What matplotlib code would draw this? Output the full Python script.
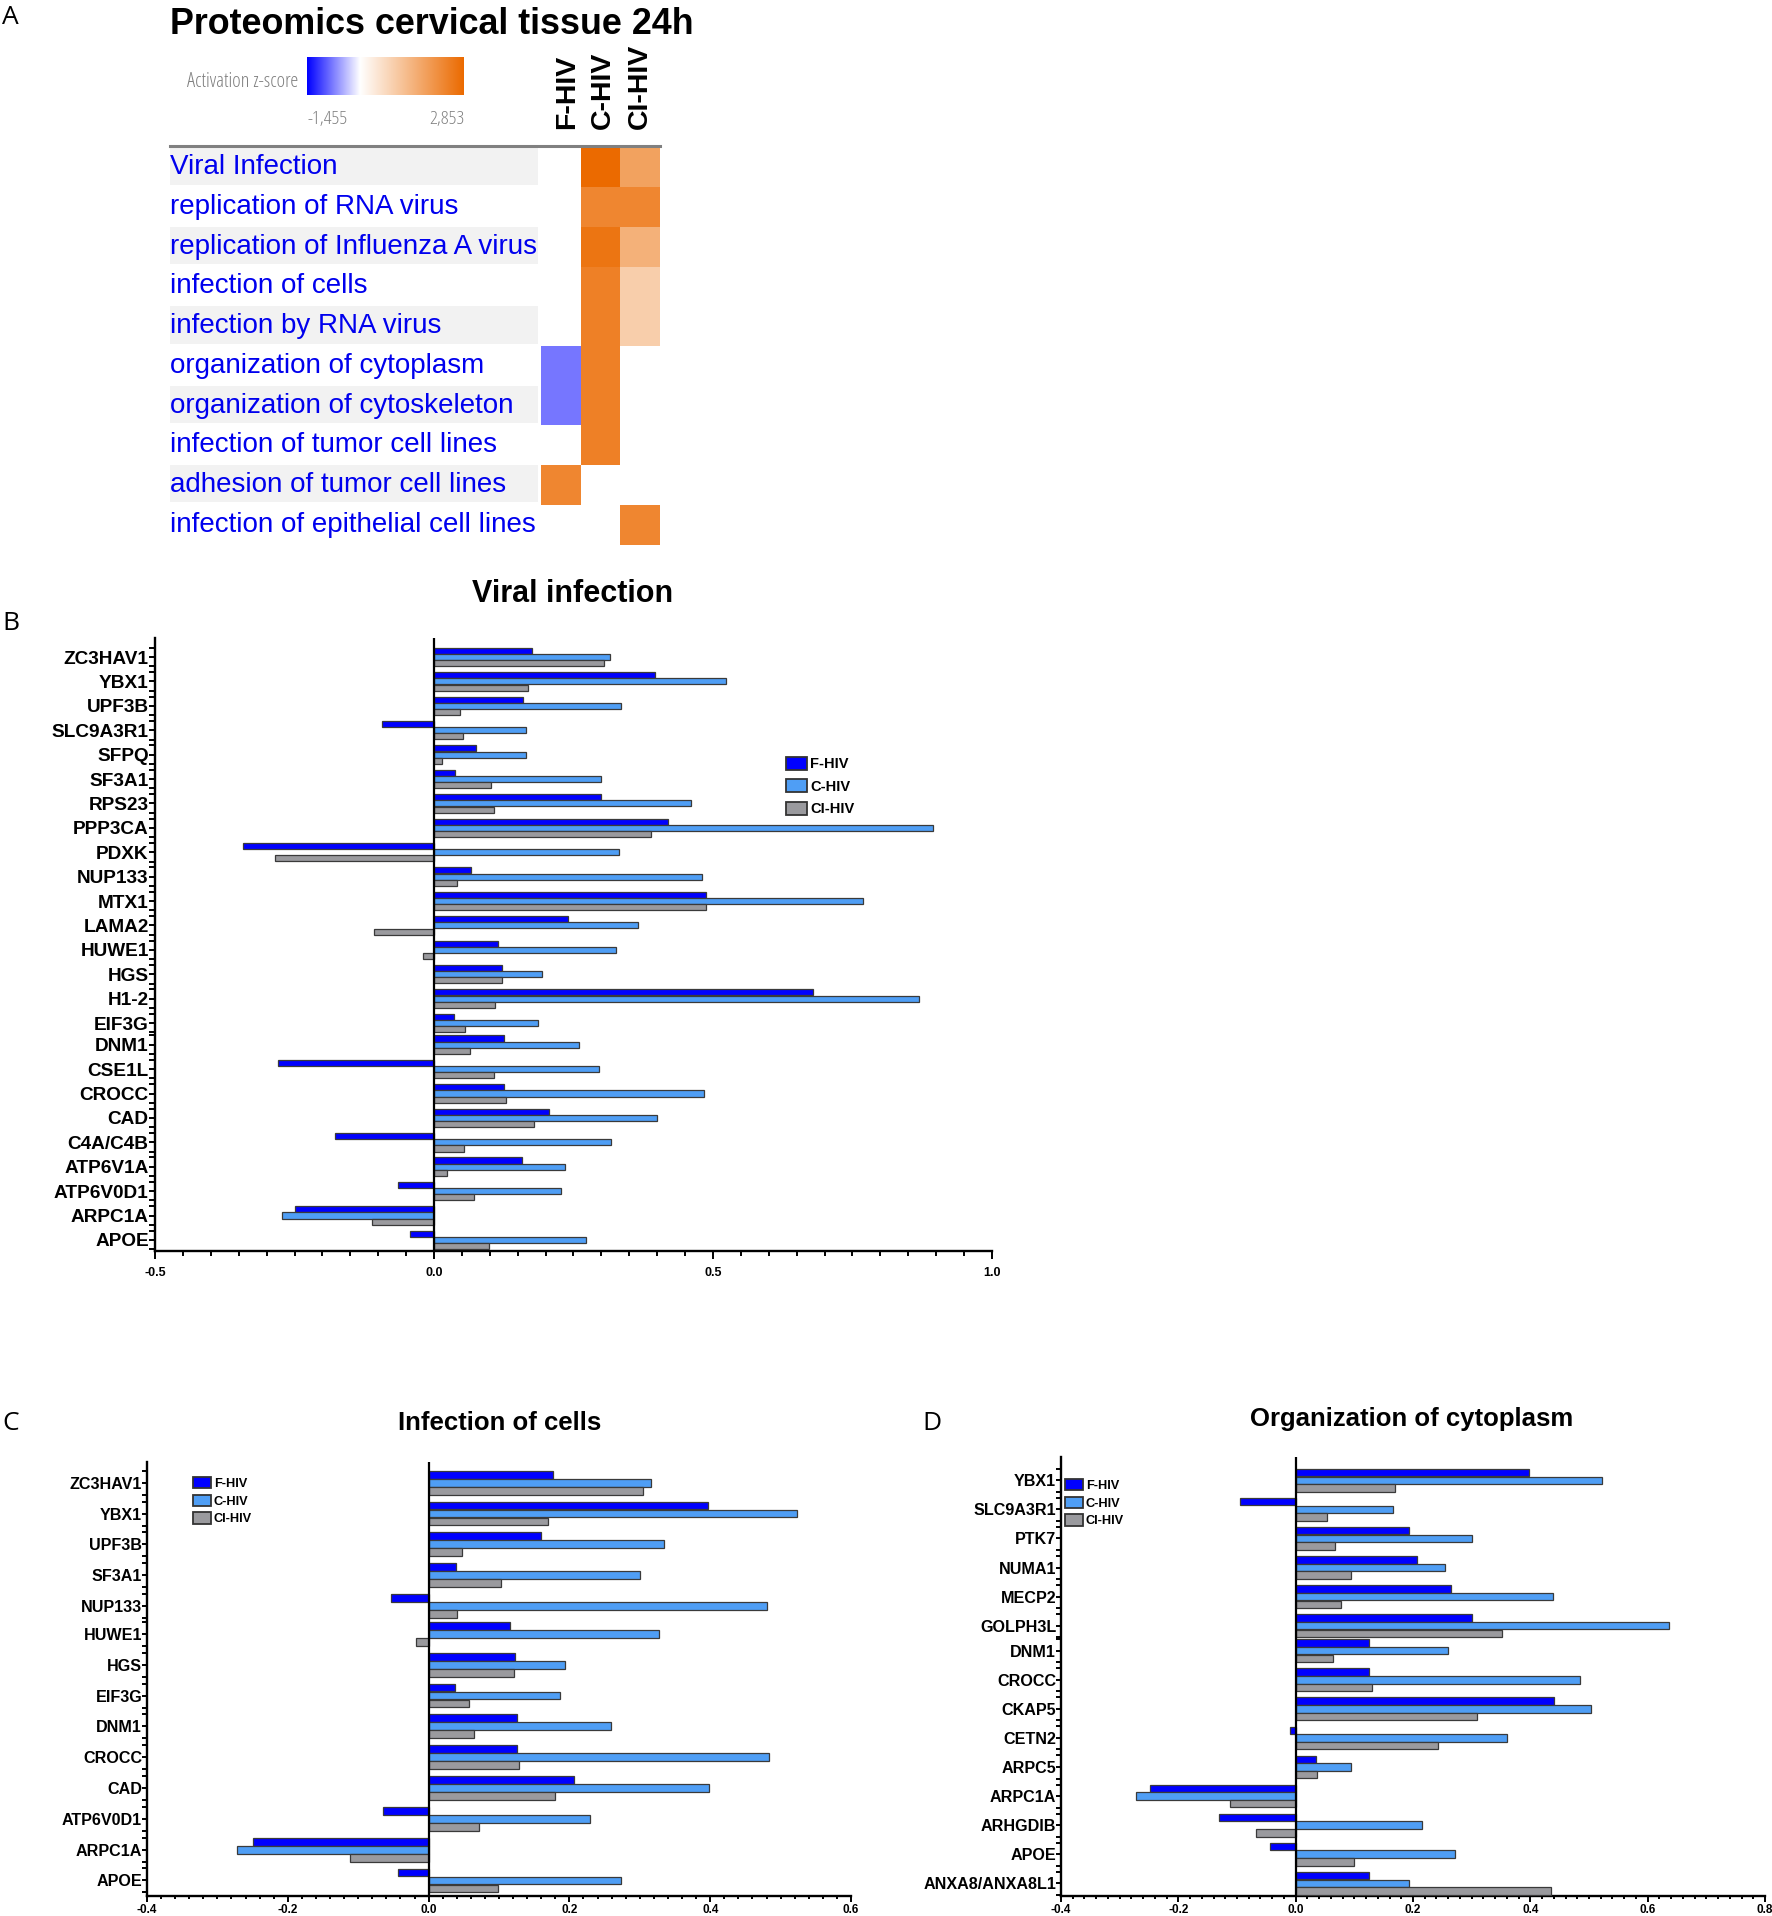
import matplotlib
matplotlib.use('Agg')
import matplotlib.pyplot as plt
import numpy as np
from matplotlib.colors import LinearSegmentedColormap
from matplotlib.patches import Patch
from matplotlib.ticker import FixedLocator

W, H = 1772, 1916
plt.rcParams['font.family'] = ['Liberation Sans', 'DejaVu Sans']

groups = ['F-HIV', 'C-HIV', 'CI-HIV']
colors = ['#0000FF', '#4F9EF5', '#9A9A9E']

# Panel A
pathways = ['Viral Infection', 'replication of RNA virus', 'replication of Influenza A virus',
            'infection of cells', 'infection by RNA virus', 'organization of cytoplasm',
            'organization of cytoskeleton', 'infection of tumor cell lines',
            'adhesion of tumor cell lines', 'infection of epithelial cell lines']
z_f = [np.nan, np.nan, np.nan, np.nan, np.nan, -0.78, -0.78, np.nan, 2.3, np.nan]
z_c = [2.853, 2.3, 2.65, 2.43, 2.43, 2.43, 2.43, 2.43, np.nan, np.nan]
z_ci = [1.78, 2.3, 1.5, 0.94, 0.94, np.nan, np.nan, np.nan, np.nan, 2.3]
z_min, z_max = -1.455, 2.853

# Panel B
genes_b = ['ZC3HAV1', 'YBX1', 'UPF3B', 'SLC9A3R1', 'SFPQ', 'SF3A1', 'RPS23', 'PPP3CA', 'PDXK',
           'NUP133', 'MTX1', 'LAMA2', 'HUWE1', 'HGS', 'H1-2', 'EIF3G', 'DNM1', 'CSE1L', 'CROCC',
           'CAD', 'C4A/C4B', 'ATP6V1A', 'ATP6V0D1', 'ARPC1A', 'APOE']
f_b = [.176, .396, .16, -.094, .075, .038, .30, .42, -.342, .066, .487, .241, .115, .122, .68,
       .036, .126, -.279, .126, .206, -.178, .157, -.065, -.249, -.043]
c_b = [.315, .523, .335, .165, .164, .30, .461, .895, .332, .48, .768, .366, .327, .193, .87,
       .187, .26, .295, .484, .40, .317, .235, .228, -.272, .272]
ci_b = [.305, .169, .046, .052, .014, .102, .107, .389, -.285, .042, .488, -.108, -.019, .121,
        .109, .056, .065, .107, .129, .179, .054, .023, .072, -.112, .099]

# Panel C
genes_c = ['ZC3HAV1', 'YBX1', 'UPF3B', 'SF3A1', 'NUP133', 'HUWE1', 'HGS', 'EIF3G', 'DNM1',
           'CROCC', 'CAD', 'ATP6V0D1', 'ARPC1A', 'APOE']
f_c = [.176, .397, .16, .039, -.053, .115, .123, .037, .126, .126, .207, -.065, -.249, -.044]
c_c = [.316, .523, .335, .30, .48, .327, .194, .187, .259, .484, .399, .229, -.272, .273]
ci_c = [.305, .169, .047, .103, .041, -.018, .122, .057, .065, .129, .18, .072, -.112, .099]

# Panel D
genes_d = ['YBX1', 'SLC9A3R1', 'PTK7', 'NUMA1', 'MECP2', 'GOLPH3L', 'DNM1', 'CROCC', 'CKAP5',
           'CETN2', 'ARPC5', 'ARPC1A', 'ARHGDIB', 'APOE', 'ANXA8/ANXA8L1']
f_d = [.397, -.095, .194, .206, .264, .301, .125, .125, .441, -.009, .035, -.249, -.13, -.044, .125]
c_d = [.523, .166, .30, .255, .439, .636, .26, .484, .504, .36, .095, -.272, .215, .272, .193]
ci_d = [.169, .053, .067, .094, .077, .352, .064, .13, .309, .243, .036, -.112, -.068, .099, .435]


def add_axes_px(fig, x0, y0, x1, y1):
    # y in pixels from the top of the picture
    return fig.add_axes([x0 / W, 1 - y1 / H, (x1 - x0) / W, (y1 - y0) / H])


def text_px(fig, x, y, s, **kw):
    fig.text(x / W, 1 - y / H, s, **kw)


def bar_panel(fig, box, first_y, step, squeeze, genes, series, xlim, major, minor, pitch,
              label_size, tick_size, tick_len, x_pad, legend_xy, legend_size, legend_gap):
    x0, y0, x1, y1 = box
    ax = add_axes_px(fig, x0, y0, x1, y1)
    # one row is slightly closer to the previous one in the original
    rows = np.arange(len(genes), dtype=float)
    rows[squeeze[0]:] -= squeeze[1] / step
    bar_h = pitch / step
    for i, (vals, col) in enumerate(zip(series, colors)):
        ax.barh(rows + (i - 1) * bar_h, vals, height=bar_h * 0.97, color=col,
                edgecolor='#3A3A3A', linewidth=0.9, zorder=3)
    ax.set_xlim(*xlim)
    ax.set_ylim((y1 - first_y) / step, (y0 - first_y) / step)
    ax.axvline(0, color='black', lw=1.6, zorder=4)
    for side in ['top', 'right']:
        ax.spines[side].set_visible(False)
    for side in ['left', 'bottom']:
        ax.spines[side].set_linewidth(1.7)
    ax.set_xticks(major)
    ax.set_xticklabels([f'{v:.1f}' for v in major], fontsize=tick_size, fontweight='bold')
    ax.xaxis.set_minor_locator(FixedLocator(minor))
    ax.tick_params(axis='x', which='major', width=1.4, length=tick_len + 2, pad=x_pad)
    ax.tick_params(axis='x', which='minor', width=1.4, length=tick_len)
    ax.set_yticks(rows)
    ax.set_yticklabels(genes, fontsize=label_size, fontweight='bold')
    edge = np.concatenate([rows - 1.5 * bar_h, rows + 1.5 * bar_h])
    ax.yaxis.set_minor_locator(FixedLocator(edge))
    ax.tick_params(axis='y', which='both', width=1.4, length=tick_len + 1, pad=0)
    handles = [Patch(facecolor=c, edgecolor='#333333', linewidth=1.3, label=g)
               for c, g in zip(colors, groups)]
    fig.legend(handles=handles, loc='upper left', frameon=False,
               bbox_to_anchor=(legend_xy[0] / W, 1 - legend_xy[1] / H), borderpad=0,
               borderaxespad=0, handlelength=1.44, handleheight=0.97, handletextpad=0.2,
               labelspacing=legend_gap, prop={'weight': 'bold', 'size': legend_size})
    return ax


fig = plt.figure(figsize=(W / 100, H / 100), dpi=100)

# Panel letters
for letter, lx, ly in [('A', 2, 18), ('B', 2, 623), ('C', 2, 1423), ('D', 922, 1423)]:
    text_px(fig, lx, ly, letter, fontsize=19, va='center', ha='left', family=['Open Sans'])

# Panel A heat map
text_px(fig, 170, 24, 'Proteomics cervical tissue 24h', fontsize=25.8, fontweight='bold', va='center')
heat_cmap = LinearSegmentedColormap.from_list(
    'zscore', [(0, '#0000FF'), (-z_min / (z_max - z_min), '#FFFFFF'), (1, '#EB6A00')])
ax_a = add_axes_px(fig, 170, 147.5, 660, 544.5)
cell_w = (660 - 541) / 3
left = -(541 - 170) / cell_w
z = np.ma.masked_invalid(np.array([z_f, z_c, z_ci]).T)
ax_a.pcolormesh(np.arange(4), np.arange(len(pathways) + 1), z, cmap=heat_cmap,
                vmin=z_min, vmax=z_max)
ax_a.set_xlim(left, 3)
ax_a.set_ylim(len(pathways), 0)
ax_a.axis('off')
for i, name in enumerate(pathways):
    if i % 2 == 0:
        ax_a.barh(i + 0.47, -0.08 - left, left=left, height=0.94, color='#F2F2F2', zorder=0)
    ax_a.text(left, i + 0.5, name, color='#0000EE', fontsize=20, va='center', ha='left')
for x, g in zip([567, 603, 640], groups):
    text_px(fig, x, 129, g, rotation=90, fontsize=20.5, fontweight='bold', ha='center', va='bottom')
fig.add_artist(plt.Line2D([170 / W, 660 / W], [1 - 145.5 / H] * 2, color='#808080', lw=2.2))

ax_cb = add_axes_px(fig, 307, 57, 464, 95)
ax_cb.imshow(np.linspace(z_min, z_max, 256).reshape(1, -1), aspect='auto', cmap=heat_cmap,
             vmin=z_min, vmax=z_max)
ax_cb.axis('off')
text_px(fig, 298, 82, 'Activation z-score', fontsize=14.7, color='#808080', ha='right', va='center',
        family=['Open Sans'], stretch='condensed')
text_px(fig, 307, 119, '-1,455', fontsize=14, color='#808080', ha='left', va='center',
        family=['Open Sans'], stretch='condensed')
text_px(fig, 464, 119, '2,853', fontsize=14, color='#808080', ha='right', va='center',
        family=['Open Sans'], stretch='condensed')

# Panel B
text_px(fig, 573, 594, 'Viral infection', fontsize=22, fontweight='bold', ha='center', va='center')
bar_panel(fig, (155, 638, 992, 1251), 657, 24.4, (16, 2.7), genes_b, [f_b, c_b, ci_b],
          (-0.5, 1.0), [-0.5, 0.0, 0.5, 1.0], np.arange(-0.5, 1.001, 0.05), 6.2,
          13.7, 9, 3.5, 6, (786, 757), 10.5, 0.55)

# Panel C
text_px(fig, 500, 1423, 'Infection of cells', fontsize=18.5, fontweight='bold', ha='center', va='center')
bar_panel(fig, (147, 1461.7, 851, 1896), 1482.7, 30.83, (5, 3), genes_c, [f_c, c_c, ci_c],
          (-0.4, 0.6), [-0.4, -0.2, 0.0, 0.2, 0.4, 0.6], np.arange(-0.4, 0.601, 0.02), 8,
          11.6, 8.5, 2.5, 1.5, (193, 1477), 9.2, 0.37)

# Panel D
text_px(fig, 1412, 1419, 'Organization of cytoplasm', fontsize=18.5, fontweight='bold', ha='center', va='center')
bar_panel(fig, (1061, 1457, 1765, 1895.7), 1480.3, 29.07, (6, 4), genes_d, [f_d, c_d, ci_d],
          (-0.4, 0.8), [-0.4, -0.2, 0.0, 0.2, 0.4, 0.6, 0.8], np.arange(-0.4, 0.801, 0.02), 7.67,
          11.6, 8.5, 2.5, 1.5, (1065, 1479), 9.2, 0.37)

fig.savefig('out.png', dpi=100)
